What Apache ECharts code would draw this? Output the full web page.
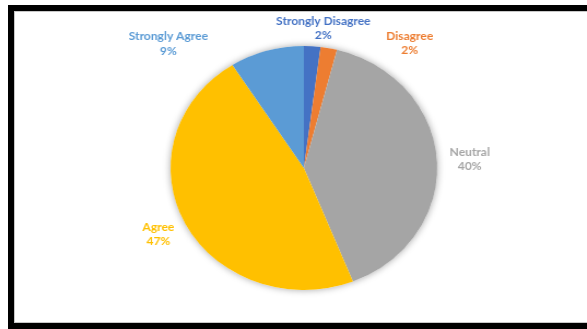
<!DOCTYPE html>
<html>
<head>
<meta charset="utf-8">
<script src="https://cdn.jsdelivr.net/npm/echarts@6/dist/echarts.min.js"></script>
<style>
  html, body { margin: 0; padding: 0; background: #fff; overflow: hidden; }
  #frame {
    position: absolute; left: 8px; top: 5px; width: 620px; height: 324px;
    box-sizing: border-box; border: 6px solid #000;
    box-shadow: inset 0 0 0 1px #c8c8c8;
  }
  /* the reference pie is slightly stretched sideways */
  #chart {
    position: absolute; left: 0; top: 0; width: 537px; height: 329px;
    transform: scaleX(1.0931); transform-origin: 0 0;
  }
</style>
</head>
<body>
<div id="frame"></div>
<div id="chart"></div>
<script>
const categories = ['Strongly Disagree', 'Disagree', 'Neutral', 'Agree', 'Strongly Agree'];
const values = [2, 2, 40, 47, 9];
const colors = ['#4472C4', '#ED7D31', '#A5A5A5', '#FFC000', '#5B9BD5'];

// how far each label sits out from the rim, and sideways
const labelRadial = [18, 5, 13, 24, 7];
const labelSide = [9, 73, 17, 3, 88];

const chart = echarts.init(document.getElementById('chart'), null, { renderer: 'canvas' });

const pieData = categories.map(function (name, i) {
  return {
    name: name,
    value: values[i],
    itemStyle: { color: colors[i] },
    label: { color: colors[i] },
    labelLine: { length: labelRadial[i], length2: labelSide[i] }
  };
});

chart.setOption({
  animation: false,
  backgroundColor: 'transparent',
  series: [
    {
      // soft shadow behind the whole pie
      type: 'pie',
      silent: true,
      center: [278, 168],
      radius: 122,
      label: { show: false },
      labelLine: { show: false },
      itemStyle: { color: '#fff', shadowBlur: 7, shadowColor: 'rgba(0,0,0,0.35)' },
      data: [{ value: 1 }]
    },
    {
      type: 'pie',
      center: [278, 168],
      radius: 122,
      startAngle: 90,
      clockwise: true,
      avoidLabelOverlap: false,
      percentPrecision: 0,
      itemStyle: { borderWidth: 0 },
      label: {
        show: true,
        position: 'outside',
        formatter: '{b}\n{d}%',
        fontFamily: 'Lato',
        fontWeight: 'bold',
        fontSize: 11,
        lineHeight: 14.5,
        distanceToLabelLine: 0
      },
      labelLine: { show: false },
      labelLayout: function (p) {
        const r = p.labelRect;
        const x = p.align === 'right' ? r.x + r.width : r.x;
        return { x: x, y: r.y + r.height / 2, align: 'center', verticalAlign: 'middle' };
      },
      data: pieData
    }
  ]
});
</script>
</body>
</html>
